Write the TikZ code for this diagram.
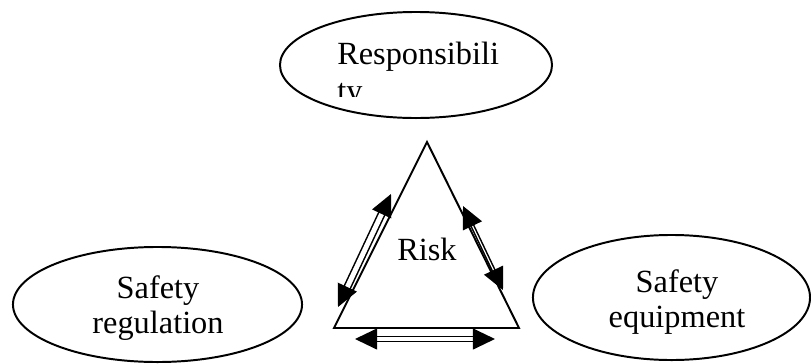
\documentclass[tikz,border=0pt]{standalone}
\usepackage{fontspec}
\setmainfont{Liberation Serif}
\usetikzlibrary{shapes.geometric,arrows.meta}

\tikzset{
  bubble/.style={draw, ellipse, line width=1.4pt, inner sep=0pt},
  words/.style={font=\fontsize{23}{25}\selectfont, align=center, inner sep=0pt},
  twoway/.style={double, line width=1.1pt,
    arrows={Triangle[length=0.55cm,width=0.52cm]-Triangle[length=0.55cm,width=0.52cm]}}
}

\begin{document}
\begin{tikzpicture}[x=0.025cm, y=-0.025cm]
\useasboundingbox (0,0) rectangle (811,363);

% Ovals
\node[bubble, minimum width=6.8cm, minimum height=2.65cm] (resp) at (416,65) {};
\node[bubble, minimum width=7.225cm, minimum height=2.875cm] (reg) at (157.5,304.5) {};
\node[bubble, minimum width=6.925cm, minimum height=3.125cm] (equip) at (671.5,297.5) {};

% Texts
\begin{scope}
\clip (300,20) rectangle (530,96);
\node[words, align=left, anchor=north west, font=\fontsize{23}{26.5}\selectfont] (resptxt) at (337,42) {Responsibili\\ty};
\end{scope}
\node[words] (regtxt) at (158,308) {Safety\\regulation};
\node[words] (equiptxt) at (677,302) {Safety\\equipment};

% Triangle
\coordinate (top) at (427,142);
\coordinate (bl) at (334,328);
\coordinate (br) at (519,328);
\draw[line width=1.4pt] (top) -- (bl) -- (br) -- cycle;
\node[words] (risk) at (427,249) {Risk};

% Arrows
\coordinate (l1) at (391,194);
\coordinate (l2) at (338,307);
\coordinate (r1) at (463,206);
\coordinate (r2) at (503,290);
\coordinate (b1) at (355,339);
\coordinate (b2) at (495,339);
\draw[twoway, double distance=3.5pt] (l1) -- (l2);
\draw[twoway, double distance=0.8pt] (r1) -- (r2);
\draw[twoway, double distance=2.2pt] (b1) -- (b2);

\end{tikzpicture}
\end{document}
